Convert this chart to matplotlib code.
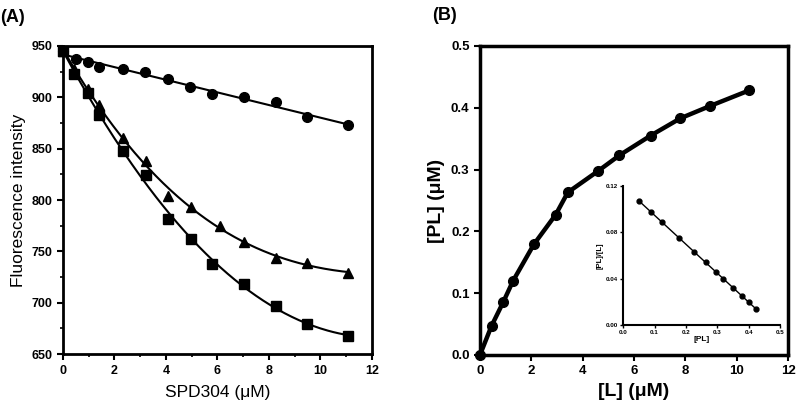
import numpy as np
import matplotlib
matplotlib.use("Agg")
import matplotlib.pyplot as plt
from matplotlib.ticker import MultipleLocator

plt.rcParams['font.family'] = ['Liberation Sans', 'DejaVu Sans']

# Panel A data
x_circle = [0, 0.5, 0.98, 1.41, 2.32, 3.2, 4.09, 4.93, 5.79, 7.05, 8.27, 9.48, 11.06]
y_circle = [945, 937, 934, 930, 928, 925, 918, 910, 903, 900, 895, 881, 873]
x_tri = [0, 0.43, 0.98, 1.41, 2.32, 3.21, 4.09, 4.96, 6.1, 7.05, 8.27, 9.48, 11.06]
y_tri = [945, 928, 908, 893, 860, 838, 804, 793, 775, 759, 744, 739, 729]
x_sq = [0, 0.43, 0.98, 1.41, 2.32, 3.21, 4.09, 4.96, 5.79, 7.05, 8.27, 9.48, 11.06]
y_sq = [945, 923, 904, 883, 848, 824, 782, 762, 738, 718, 697, 679, 668]

# Panel B data
L_vals = [0, 0.45, 0.90, 1.29, 2.10, 2.95, 3.42, 4.58, 5.43, 6.65, 7.81, 8.97, 10.48]
PL_vals = [0, 0.047, 0.085, 0.120, 0.179, 0.227, 0.263, 0.297, 0.323, 0.355, 0.383, 0.403, 0.428]

# Inset data
PL_in = [0.051, 0.0885, 0.123, 0.179, 0.227, 0.263, 0.295, 0.319, 0.351, 0.380, 0.402, 0.422]
ratio_in = [0.107, 0.0976, 0.0887, 0.0749, 0.0633, 0.054, 0.046, 0.0397, 0.0317, 0.025, 0.0199, 0.0136]

fig = plt.figure(figsize=(8, 4.07), dpi=100)

def style(ax, lw=2.0, tl=4, ml=2.5):
    for s in ax.spines.values():
        s.set_linewidth(lw)
    ax.tick_params(which='major', direction='out', length=tl, width=1.5)
    ax.tick_params(which='minor', direction='out', length=ml, width=1.2)

# Panel A
axA = fig.add_axes([0.07875, 0.13, 0.386, 0.757])
xs = np.linspace(0, 11.06, 200)
for xv, yv, m, deg in [(x_circle, y_circle, 'o', 1), (x_tri, y_tri, '^', 3), (x_sq, y_sq, 's', 3)]:
    c = np.polyfit(xv, yv, deg)
    axA.plot(xs, np.polyval(c, xs), color='black', lw=1.5, zorder=2)
    axA.plot(xv, yv, m, color='black', ms=7, zorder=3, clip_on=False)
axA.set_xlim(0, 12)
axA.set_ylim(650, 950)
axA.xaxis.set_major_locator(MultipleLocator(2))
axA.xaxis.set_minor_locator(MultipleLocator(1))
axA.yaxis.set_major_locator(MultipleLocator(50))
axA.yaxis.set_minor_locator(MultipleLocator(25))
style(axA)
for lab in axA.get_xticklabels() + axA.get_yticklabels():
    lab.set_fontweight('bold')
    lab.set_fontsize(9)
axA.set_xlabel('SPD304 (μM)', fontsize=12.5, labelpad=6)
axA.set_ylabel('Fluorescence intensity', fontsize=12.5, labelpad=4)
fig.text(0.0, 0.958, '(A)', fontsize=13, fontweight='bold', va='center', ha='left')

# Panel B
axB = fig.add_axes([0.6, 0.128, 0.385, 0.759])
axB.plot(L_vals, PL_vals, '-o', color='black', lw=3.2, ms=7, clip_on=False, zorder=3)
axB.set_xlim(0, 12)
axB.set_ylim(0, 0.5)
axB.xaxis.set_major_locator(MultipleLocator(2))
axB.yaxis.set_major_locator(MultipleLocator(0.1))
style(axB, lw=2.5)
axB.set_yticks([0, 0.1, 0.2, 0.3, 0.4, 0.5])
axB.set_yticklabels(['0.0', '0.1', '0.2', '0.3', '0.4', '0.5'])
for lab in axB.get_xticklabels() + axB.get_yticklabels():
    lab.set_fontweight('bold')
    lab.set_fontsize(9.5)
axB.set_xlabel('[L] (μM)', fontsize=14, fontweight='bold', labelpad=4)
axB.set_ylabel('[PL] (μM)', fontsize=14, fontweight='bold', labelpad=4)
fig.text(0.54, 0.962, '(B)', fontsize=13, fontweight='bold', va='center', ha='left')

# Inset
axI = fig.add_axes([0.779, 0.2015, 0.196, 0.3415])
c = np.polyfit(PL_in, ratio_in, 1)
xi = np.linspace(PL_in[0], PL_in[-1], 50)
axI.plot(xi, np.polyval(c, xi), color='black', lw=1.0)
axI.plot(PL_in, ratio_in, 'o', color='black', ms=3.5)
axI.set_xlim(0, 0.5)
axI.set_ylim(0, 0.12)
axI.set_xticks([0, 0.1, 0.2, 0.3, 0.4, 0.5])
axI.set_xticklabels(['0.0', '0.1', '0.2', '0.3', '0.4', '0.5'])
axI.set_yticks([0, 0.04, 0.08, 0.12])
axI.set_yticklabels(['0.00', '0.04', '0.08', '0.12'])
axI.spines['top'].set_visible(False)
axI.spines['right'].set_visible(False)
for s in ['left', 'bottom']:
    axI.spines[s].set_linewidth(1.5)
axI.tick_params(direction='out', length=2, width=1, labelsize=4.5, pad=1.5)
for lab in axI.get_xticklabels() + axI.get_yticklabels():
    lab.set_fontweight('bold')
axI.set_xlabel('[PL]', fontsize=6, fontweight='bold', labelpad=1)
axI.set_ylabel('[PL]/[L]', fontsize=5.5, fontweight='bold', labelpad=2)

fig.savefig('out.png', dpi=100)
